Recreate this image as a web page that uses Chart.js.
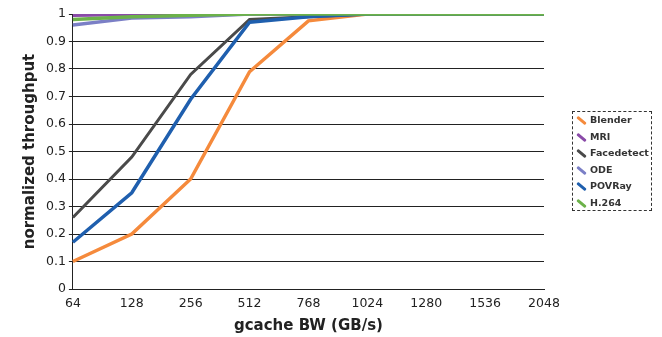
<!DOCTYPE html>
<html>
<head>
<meta charset="utf-8">
<script src="https://cdn.jsdelivr.net/npm/chart.js@4"></script>
<style>
  body { margin: 0; background: #fff; }
  #wrap { position: relative; width: 662px; height: 337px; }
  #legend {
    position: absolute; left: 572px; top: 111px; width: 80px; height: 100px;
    border: 1px dashed #333; box-sizing: border-box; padding: 0 0 0 3px;
    font-family: "DejaVu Sans", sans-serif; font-size: 9.5px; font-weight: bold; color: #333;
  }
  .item { height: 16.6px; line-height: 16px; white-space: nowrap; }
  .sw { display: inline-block; width: 11px; height: 3px; margin-right: 3px; vertical-align: middle;
        transform: rotate(40deg); border-radius: 1px; }
</style>
</head>
<body>
<div id="wrap">
  <canvas id="myChart1" width="662" height="337"></canvas>
  <div id="legend"></div>
</div>
<script>
const categories = ["64", "128", "256", "512", "768", "1024", "1280", "1536", "2048"];
const seriesNames = ["Blender", "MRI", "Facedetect", "ODE", "POVRay", "H.264"];
const blender = [0.10, 0.20, 0.40, 0.79, 0.975, 1.0, 1.0, 1.0, 1.0];
const mri = [0.995, 0.998, 1.0, 1.0, 1.0, 1.0, 1.0, 1.0, 1.0];
const facedetect = [0.26, 0.48, 0.78, 0.98, 0.99, 1.0, 1.0, 1.0, 1.0];
const ode = [0.96, 0.985, 0.99, 1.0, 1.0, 1.0, 1.0, 1.0, 1.0];
const povray = [0.17, 0.35, 0.69, 0.97, 0.99, 1.0, 1.0, 1.0, 1.0];
const h264 = [0.98, 0.99, 0.995, 1.0, 1.0, 1.0, 1.0, 1.0, 1.0];
const yTicks = [0, 0.1, 0.2, 0.3, 0.4, 0.5, 0.6, 0.7, 0.8, 0.9, 1];

const colors = ["#f58a3c", "#8a4aa8", "#4a4a4a", "#7b7fc6", "#1f5fae", "#6cb24a"];
const values = [blender, mri, facedetect, ode, povray, h264];
const drawOrder = [3, 5, 2, 4, 1, 0];

const ctx = document.getElementById("myChart1").getContext("2d");
const chart = new Chart(ctx, {
  type: "line",
  data: {
    labels: categories,
    datasets: seriesNames.map(function (name, i) {
      return {
        label: name,
        data: values[i],
        borderColor: colors[i],
        borderWidth: i === 2 ? 3 : 3.5,
        pointRadius: 0,
        tension: 0,
        order: drawOrder[i],
      };
    }),
  },
  options: {
    responsive: false,
    animation: false,
    layout: { padding: { top: 14, right: 118, left: 17, bottom: 2 } },
    plugins: { legend: { display: false }, tooltip: { enabled: false } },
    scales: {
      x: {
        offset: false,
        grid: { display: false, drawTicks: true, tickLength: 4 },
        border: { color: "#222", width: 1 },
        ticks: { color: "#222", font: { family: "DejaVu Sans", size: 12.5 }, padding: 3, maxRotation: 0 },
        title: { display: true, text: "gcache BW (GB/s)", color: "#222",
                 font: { family: "DejaVu Sans", size: 15, weight: "bold" }, padding: { top: 3, bottom: 0 } },
      },
      y: {
        min: 0, max: 1,
        afterBuildTicks: function (axis) { axis.ticks = yTicks.map(function (v) { return { value: v }; }); },
        grid: { color: "#222", lineWidth: 1, tickLength: 4 },
        border: { color: "#222", width: 1 },
        ticks: { color: "#222", font: { family: "DejaVu Sans", size: 12.5 }, padding: 3,
                 callback: function (v) { return String(Math.round(v * 10) / 10); } },
        title: { display: true, text: "normalized throughput", color: "#222",
                 font: { family: "DejaVu Sans", size: 15, weight: "bold" }, padding: { bottom: 4 } },
      },
    },
  },
});

const legend = document.getElementById("legend");
seriesNames.forEach(function (name, i) {
  const row = document.createElement("div");
  row.className = "item";
  const sw = document.createElement("span");
  sw.className = "sw";
  sw.style.background = colors[i];
  row.appendChild(sw);
  row.appendChild(document.createTextNode(name));
  legend.appendChild(row);
});
</script>
</body>
</html>
